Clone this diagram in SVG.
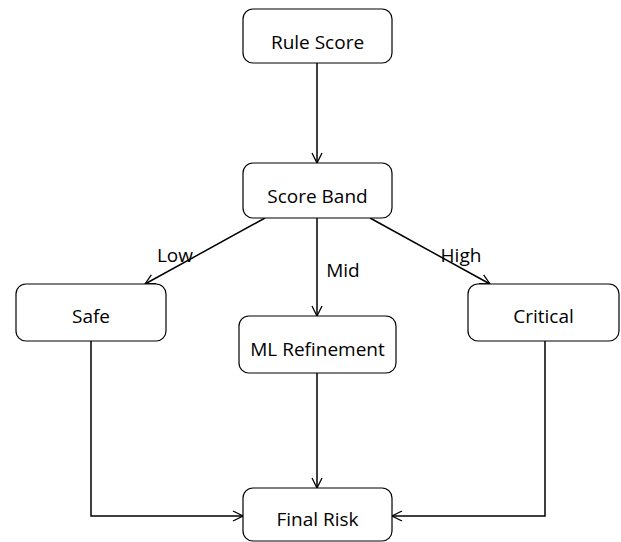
<svg xmlns="http://www.w3.org/2000/svg" width="621" height="542" viewBox="0 0 621 542">
<defs>
<style>
.box{fill:#fff;stroke:#000;stroke-width:1.2}
.t{font-family:"Open Sans","Liberation Sans",sans-serif;font-size:19px;fill:#000;text-anchor:middle;dominant-baseline:central}
.e{fill:none;stroke:#000;stroke-width:1.5;marker-end:url(#a)}
</style>
<marker id="a" viewBox="0 0 12 12" refX="11" refY="6" markerWidth="12" markerHeight="12" markerUnits="userSpaceOnUse" orient="auto">
<path d="M1,1 Q5,3 11,6 Q5,9 1,11" fill="none" stroke="#000" stroke-width="1.3"/>
</marker>
</defs>
<rect width="621" height="542" fill="#fff"/>
<g id="edges">
<path class="e" d="M317,63 V163"/>
<path class="e" d="M265,218 L145,284"/>
<path class="e" d="M317,218 V316"/>
<path class="e" d="M370,218 L490,284"/>
<path class="e" d="M91,341 V516 H243"/>
<path class="e" d="M317,373 V488"/>
<path class="e" d="M545,341 V516 H392"/>
</g>
<g id="labels">
<text class="t" x="175" y="255">Low</text>
<text class="t" x="343" y="270">Mid</text>
<text class="t" x="461" y="255">High</text>
</g>
<g id="rule-score"><rect class="box" x="243" y="9" width="149" height="54" rx="10"/><text class="t" x="317.5" y="42">Rule Score</text></g>
<g id="score-band"><rect class="box" x="243" y="163" width="149" height="55" rx="10"/><text class="t" x="317.5" y="196">Score Band</text></g>
<g id="safe"><rect class="box" x="16" y="284" width="150" height="57" rx="10"/><text class="t" x="91" y="316">Safe</text></g>
<g id="ml-refinement"><rect class="box" x="239" y="316" width="157" height="57" rx="10"/><text class="t" x="317.5" y="349">ML Refinement</text></g>
<g id="critical"><rect class="box" x="468" y="284" width="151" height="57" rx="10"/><text class="t" x="543.5" y="316">Critical</text></g>
<g id="final-risk"><rect class="box" x="243" y="488" width="149" height="53" rx="10"/><text class="t" x="317.5" y="519">Final Risk</text></g>
</svg>
